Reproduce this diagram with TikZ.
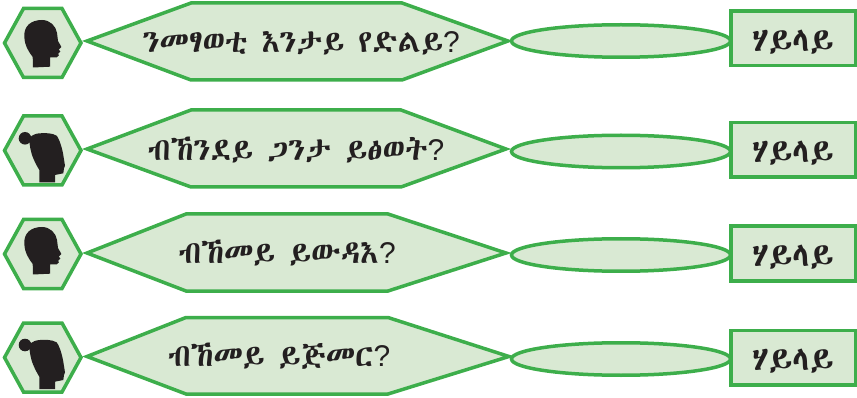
\documentclass[tikz,border=0pt]{standalone}
\usepackage{fontspec}
\setmainfont{Liberation Sans}
\newfontfamily\geez{Abyssinica SIL}
\usetikzlibrary{shapes.geometric}
\definecolor{gline}{HTML}{3DAE4B}
\definecolor{gfill}{HTML}{D9E9D3}
\definecolor{ink}{HTML}{231F20}
\newcommand{\qm}{{\normalfont\fontsize{30}{32}\selectfont ?}}
\tikzset{
  shapebox/.style={draw=gline,fill=gfill,line width=3.5pt,line join=miter},
  label/.style={text=ink,inner sep=0pt,font=\geez\fontsize{31.5}{34}\selectfont},
  answertext/.style={label,font=\geez\fontsize{34}{36}\selectfont},
  sil/.style={fill=ink,draw=none},
  malehead/.pic={
    \fill[sil] (33,67.5) -- (32.7,57) .. controls (29,52) and (24.5,46) .. (24.3,36)
      .. controls (24,26) and (31,20) .. (42,20)
      .. controls (50,20) and (56,26) .. (57,33) -- (58,41) -- (60,44.5) -- (61.3,47)
      -- (58.8,49.5) -- (60.3,51.5) -- (58.3,53.5) -- (58.8,55.5) -- (56.5,57.5)
      -- (50,57.5) -- (50,66.7) -- cycle;
  },
  femalehead/.pic={
    \fill[sil] (25,33.3) circle[radius=6.3];
    \fill[sil] (39.3,77.3) -- (55,77.3) -- (55,70) -- (63.3,68.3) -- (64,63.3) -- (65,60.7)
      -- (63.3,50) .. controls (62.5,45) and (60,35) .. (56.7,30.7)
      .. controls (52,27.8) and (45,28) .. (40,28.3)
      .. controls (36,28.5) and (33,29.5) .. (29,33)
      .. controls (29.5,38) and (30,42) .. (30.7,45)
      .. controls (31.5,50) and (35,58) .. (39.3,65) -- cycle;
  }
}
\newcommand{\rowshapes}[9]{%
  % #1 name, #2 hex centre y, #3 poly top, #4 poly tip y, #5 poly bottom, #6 poly x left, #7 poly x right, #8 right tip x, #9 ellipse cy
  \draw[shapebox] (4.5,#2) -- (23.5,#2-34.5) -- (62,#2-34.5) -- (81,#2) -- (62,#2+34.5) -- (23.5,#2+34.5) -- cycle;
  \draw[shapebox] (87,#4) -- (#6,#3) -- (#7,#3) -- (#8,#4) -- (#7,#5) -- (#6,#5) -- cycle;
  \node[shapebox,shape=ellipse,inner sep=0pt,minimum width=219pt,minimum height=32.5pt] (#1e) at (621,#9) {};
}
\newcommand{\answer}[2]{%
  \node[shapebox,inner sep=0pt,minimum width=124.5pt,minimum height=54.5pt] (#1r) at (793.2,#2) {};
  \node[answertext] (#1a) at (792.5,#2+3.5) {ሃይላይ};
}
\begin{document}
\begin{tikzpicture}[x=1pt,y=-1pt]
\useasboundingbox (0,0) rectangle (857,398);
\rowshapes{a}{43}{3}{41}{80}{191}{402}{508}{41}
\answer{a}{38.5}
\node[label] (aq) at (301,43) {ንመፃወቲ እንታይ የድልይ\qm};
\rowshapes{b}{150.5}{110}{149}{187}{191}{401}{506}{151.5}
\answer{b}{150}
\node[label] (bq) at (296,150) {ብኸንደይ ጋንታ ይፅወት\qm};
\rowshapes{c}{254}{214}{253}{291}{186}{388}{506}{255}
\answer{c}{253.5}
\node[label] (cq) at (287,253) {ብኸመይ ይውዳእ\qm};
\rowshapes{d}{357.5}{317.5}{356.5}{394}{186}{388}{509}{359}
\answer{d}{357.5}
\node[label] (dq) at (279,356) {ብኸመይ ይጅመር\qm};
\pic at (0,0) {malehead};
\pic at (0,207) {malehead};
\pic at (0,105) {femalehead};
\pic at (0,311.7) {femalehead};
\end{tikzpicture}
\end{document}
